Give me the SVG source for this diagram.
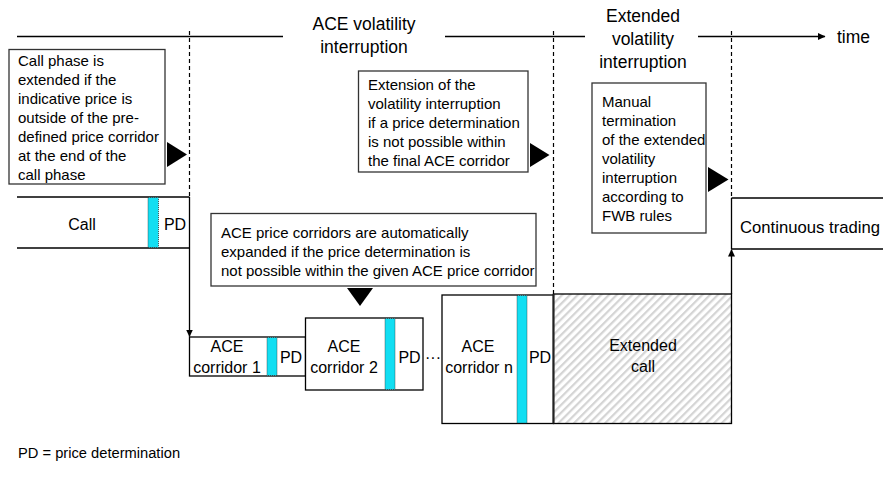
<svg xmlns="http://www.w3.org/2000/svg" width="883" height="480" viewBox="0 0 883 480">
<style>
text{font-family:"Liberation Sans",Arial,sans-serif;fill:#000}
.co{font-size:15px}
.hd{font-size:17.5px}
.lb{font-size:16px}
.mid{text-anchor:middle}
.ln{stroke:#000;stroke-width:1.3;fill:none}
.dash{stroke:#000;stroke-width:1.2;stroke-dasharray:4 3;fill:none}
.box{fill:#fff;stroke:#000;stroke-width:1.3}
.cbox{fill:#fff;stroke:#333;stroke-width:1.3}
.pd{fill:#12def2;stroke:#333;stroke-width:0.8;stroke-dasharray:1 1}
.tri{fill:#000}
</style>
<defs>
<marker id="ah" markerWidth="8" markerHeight="8" refX="7" refY="4" orient="auto" markerUnits="userSpaceOnUse">
<path d="M0,0.5 L7.5,4 L0,7.5 Z" fill="#000"/>
</marker>
<pattern id="hatch" width="5.5" height="5.5" patternUnits="userSpaceOnUse" patternTransform="rotate(45)">
<rect width="5.5" height="5.5" fill="#fff"/>
<rect width="2.2" height="5.5" fill="#d4d4d4"/>
</pattern>
</defs>

<g id="timeline">
<line class="ln" x1="17" y1="36.5" x2="283" y2="36.5"/>
<line class="ln" x1="445" y1="36.5" x2="585" y2="36.5"/>
<line class="ln" x1="698" y1="36.5" x2="825" y2="36.5" marker-end="url(#ah)"/>
<text class="hd" x="837" y="43">time</text>
</g>

<g id="phase-labels">
<text class="hd mid" x="364" y="30">ACE volatility</text>
<text class="hd mid" x="364" y="53">interruption</text>
<text class="hd mid" x="643" y="22">Extended</text>
<text class="hd mid" x="643" y="45">volatility</text>
<text class="hd mid" x="643" y="68">interruption</text>
</g>

<g id="connectors">
<line class="dash" x1="189.5" y1="31" x2="189.5" y2="197"/>
<line class="dash" x1="553.5" y1="31" x2="553.5" y2="294"/>
<line class="dash" x1="731.5" y1="31" x2="731.5" y2="198"/>
<line class="ln" x1="189.5" y1="248" x2="189.5" y2="336.5" marker-end="url(#ah)"/>
<line class="ln" x1="731.5" y1="294" x2="731.5" y2="249.5" marker-end="url(#ah)"/>
</g>

<g id="callout-call">
<rect class="cbox" x="9" y="49.5" width="156" height="134.5"/>
<text class="co" x="18" y="66">Call phase is</text>
<text class="co" x="18" y="85">extended if the</text>
<text class="co" x="18" y="104">indicative price is</text>
<text class="co" x="18" y="123">outside of the pre-</text>
<text class="co" x="18" y="142">defined price corridor</text>
<text class="co" x="18" y="161">at the end of the</text>
<text class="co" x="18" y="180">call phase</text>
<path class="tri" d="M167,142 L187,154.5 L167,167 Z"/>
</g>

<g id="callout-extension">
<rect class="cbox" x="358.5" y="71" width="169.5" height="101"/>
<text class="co" x="368" y="90">Extension of the</text>
<text class="co" x="368" y="109">volatility interruption</text>
<text class="co" x="368" y="128">if a price determination</text>
<text class="co" x="368" y="147">is not possible within</text>
<text class="co" x="368" y="166">the final ACE corridor</text>
<path class="tri" d="M530,143 L549.5,155 L530,167 Z"/>
</g>

<g id="callout-manual">
<rect class="cbox" x="592" y="83" width="114" height="150"/>
<text class="co" x="602" y="107">Manual</text>
<text class="co" x="602" y="126">termination</text>
<text class="co" x="602" y="145">of the extended</text>
<text class="co" x="602" y="164">volatility</text>
<text class="co" x="602" y="183">interruption</text>
<text class="co" x="602" y="202">according to</text>
<text class="co" x="602" y="221">FWB rules</text>
<path class="tri" d="M708,167 L728.5,179.5 L708,192 Z"/>
</g>

<g id="callout-corridors">
<rect class="cbox" x="211" y="213.5" width="325" height="72.5"/>
<text class="co" x="221" y="238">ACE price corridors are automatically</text>
<text class="co" x="221" y="257">expanded if the price determination is</text>
<text class="co" x="221" y="276">not possible within the given ACE price corridor</text>
<path class="tri" d="M347,288 L373,288 L360,306 Z"/>
</g>

<g id="call">
<line class="ln" x1="17" y1="197" x2="189.5" y2="197"/>
<line class="ln" x1="17" y1="248" x2="189.5" y2="248"/>
<line class="ln" x1="189.5" y1="197" x2="189.5" y2="248"/>
<rect class="pd" x="148" y="197.5" width="10.5" height="50"/>
<text class="lb mid" x="82" y="230">Call</text>
<text class="lb mid" x="175" y="230">PD</text>
</g>

<g id="continuous-trading">
<line class="ln" x1="731.5" y1="198" x2="883" y2="198"/>
<line class="ln" x1="731.5" y1="249" x2="883" y2="249"/>
<line class="ln" x1="731.5" y1="198" x2="731.5" y2="249"/>
<text x="740" y="233" font-size="17" textLength="140" lengthAdjust="spacingAndGlyphs">Continuous trading</text>
</g>

<g id="ace-corridor-1">
<rect class="box" x="189.5" y="337" width="116" height="39"/>
<rect class="pd" x="267" y="337.5" width="10" height="38"/>
<text class="lb mid" x="227" y="352">ACE</text>
<text class="lb mid" x="227" y="373">corridor 1</text>
<text class="lb mid" x="291" y="363">PD</text>
</g>

<g id="ace-corridor-2">
<rect class="box" x="305.5" y="318" width="117.5" height="72"/>
<rect class="pd" x="385" y="318.5" width="10" height="71"/>
<text class="lb mid" x="344" y="352">ACE</text>
<text class="lb mid" x="344" y="373">corridor 2</text>
<text class="lb mid" x="409.5" y="363">PD</text>
</g>

<text id="ellipsis" class="lb mid" x="433" y="363">···</text>

<g id="ace-corridor-n">
<rect class="box" x="442" y="295" width="111.5" height="128.5"/>
<rect class="pd" x="517" y="295.5" width="10" height="127.5"/>
<text class="lb mid" x="478" y="352">ACE</text>
<text class="lb mid" x="479" y="373">corridor n</text>
<text class="lb mid" x="540" y="363">PD</text>
</g>

<g id="extended-call">
<rect x="553.5" y="294" width="178" height="129.5" fill="url(#hatch)" stroke="#000" stroke-width="1.3"/>
<line x1="553.5" y1="294" x2="553.5" y2="423.5" stroke="#222" stroke-width="2"/>
<text class="lb mid" x="643" y="350.5">Extended</text>
<text class="lb mid" x="643" y="372">call</text>
</g>

<text id="footnote" x="18" y="458" font-size="14.7">PD = price determination</text>
</svg>
